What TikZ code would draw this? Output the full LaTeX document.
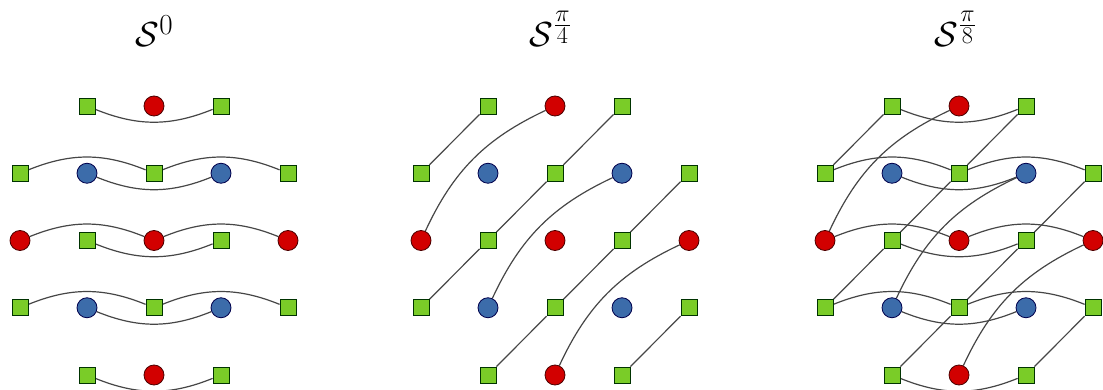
\documentclass[tikz,border=0pt]{standalone}
\usepackage{amsmath}
\usetikzlibrary{backgrounds}
\definecolor{sqgreen}{RGB}{122,204,40}
\definecolor{cred}{RGB}{210,0,0}
\definecolor{cblue}{RGB}{60,108,170}
\definecolor{edgegray}{RGB}{70,70,70}
\tikzset{
  sqn/.style={rectangle, minimum size=16pt, inner sep=0pt, fill=sqgreen, draw=black!80!green, line width=0.8pt},
  rc/.style={circle, minimum size=20pt, inner sep=0pt, fill=cred, draw=black!70!red, line width=0.8pt},
  bc/.style={circle, minimum size=20pt, inner sep=0pt, fill=cblue, draw=black!70!blue, line width=0.8pt},
  link/.style={draw=edgegray, line width=1.2pt},
  ttl/.style={inner sep=0pt, font=\Huge, scale=1.4}
}
\newcommand\makegrid[2]{%
  \foreach \r/\c/\t in {0/1/sqn,0/2/rc,0/3/sqn,
                        1/0/sqn,1/1/bc,1/2/sqn,1/3/bc,1/4/sqn,
                        2/0/rc,2/1/sqn,2/2/rc,2/3/sqn,2/4/rc,
                        3/0/sqn,3/1/bc,3/2/sqn,3/3/bc,3/4/sqn,
                        4/1/sqn,4/2/rc,4/3/sqn}
    {\node[\t] (#1-\r-\c) at ({#2+67*\c},{-106-67.25*\r}) {};}%
}
\newcommand\horizlinks[1]{%
  \begin{pgfonlayer}{background}
  \draw[link] (#1-0-1) to[bend right=22] (#1-0-3);
  \draw[link] (#1-4-1) to[bend right=22] (#1-4-3);
  \foreach \r in {1,2,3}{
    \draw[link] (#1-\r-0) to[bend left=22] (#1-\r-2);
    \draw[link] (#1-\r-2) to[bend left=22] (#1-\r-4);
    \draw[link] (#1-\r-1) to[bend right=22] (#1-\r-3);
  }
  \end{pgfonlayer}%
}
\newcommand\diaglinks[1]{%
  \begin{pgfonlayer}{background}
  \draw[link] (#1-1-0) -- (#1-0-1);
  \draw[link] (#1-3-0) -- (#1-2-1) -- (#1-1-2) -- (#1-0-3);
  \draw[link] (#1-4-1) -- (#1-3-2) -- (#1-2-3) -- (#1-1-4);
  \draw[link] (#1-4-3) -- (#1-3-4);
  \draw[link] (#1-2-0) to[bend left=20] (#1-0-2);
  \draw[link] (#1-3-1) to[bend left=20] (#1-1-3);
  \draw[link] (#1-4-2) to[bend left=20] (#1-2-4);
  \end{pgfonlayer}%
}
\begin{document}
\begin{tikzpicture}[x=1pt,y=1pt]
\useasboundingbox (0,0) rectangle (1103,-390);
\makegrid{a}{20}
\makegrid{b}{421}
\makegrid{c}{825}
\horizlinks{a}
\diaglinks{b}
\horizlinks{c}
\diaglinks{c}
\node[ttl] (ta) at (154.5,-31) {$\mathcal{S}^{0}$};
\node[ttl] (tb) at (551,-29) {$\mathcal{S}^{\frac{\pi}{4}}$};
\node[ttl] (tc) at (956,-29) {$\mathcal{S}^{\frac{\pi}{8}}$};
\end{tikzpicture}
\end{document}
